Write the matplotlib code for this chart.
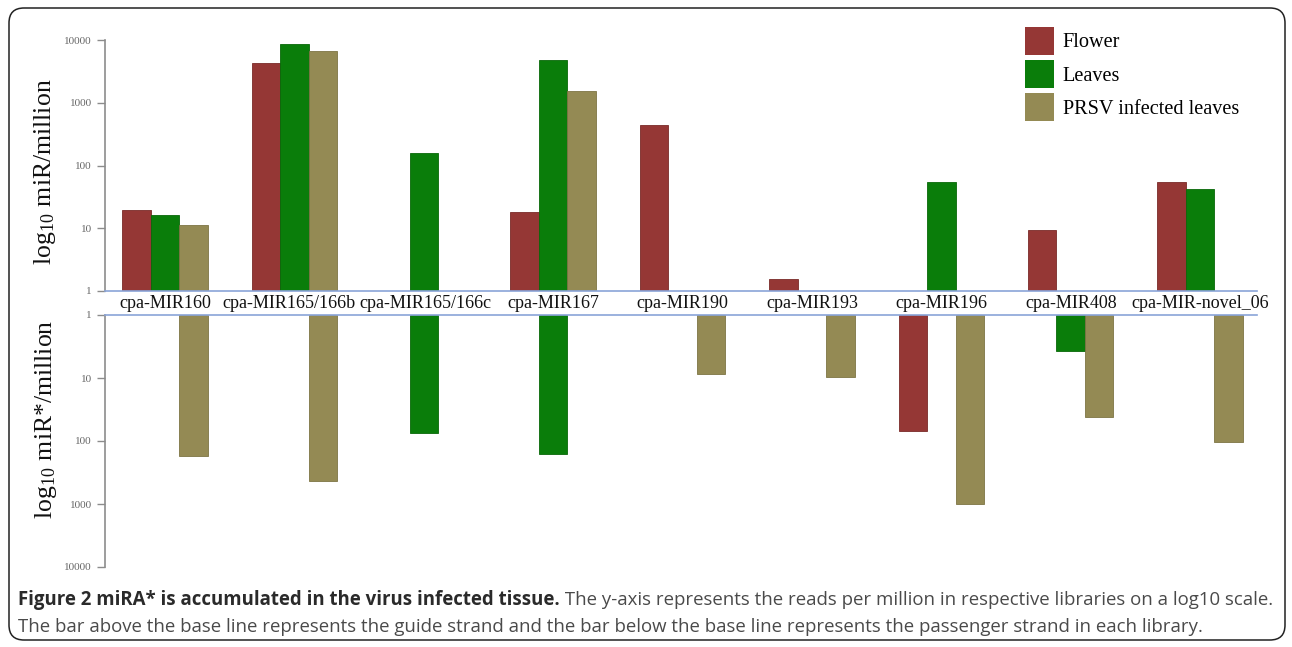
import numpy as np
import matplotlib
matplotlib.use("Agg")
import matplotlib.pyplot as plt
import matplotlib.transforms as mtransforms
from matplotlib.patches import FancyBboxPatch
from matplotlib import font_manager

# ---------------- data ----------------
categories = ["cpa-MIR160", "cpa-MIR165/166b", "cpa-MIR165/166c", "cpa-MIR167",
              "cpa-MIR190", "cpa-MIR193", "cpa-MIR196", "cpa-MIR408", "cpa-MIR-novel_06"]
series = ["Flower", "Leaves", "PRSV infected leaves"]
nan = np.nan
# guide strand (miR) reads per million
guide_flower = [19.5, 4300, nan, 18, 445, 1.55, nan, 9.4, 55]
guide_leaves = [16, 8700, 160, 4800, nan, nan, 55, nan, 42]
guide_prsv = [11.3, 6700, nan, 1550, nan, nan, nan, nan, nan]
# passenger strand (miR*) reads per million
star_flower = [nan, nan, nan, nan, nan, nan, 69, nan, nan]
star_leaves = [nan, nan, 75, 160, nan, nan, nan, 3.7, nan]
star_prsv = [174, 430, nan, nan, 8.7, 9.6, 1000, 42, 104]
top_ticks = [1, 10, 100, 1000, 10000]
top_tick_labels = ["1", "10", "100", "1000", "10000"]
bot_ticks = [1, 10, 100, 1000, 10000]
bot_tick_labels = ["1", "10", "100", "1000", "10000"]

colors = ["#953735", "#0a7d0a", "#948a54"]
edges = ["#7a2a28", "#086808", "#7d7444"]

W, H = 1292, 647
fig = plt.figure(figsize=(W / 100, H / 100), dpi=100)
plt.rcParams['mathtext.fontset'] = 'stix'

serif = ["Liberation Serif", "DejaVu Serif"]

def px_axes(left, top, right, bottom):
    return fig.add_axes([left / W, 1 - bottom / H, (right - left) / W, (bottom - top) / H])

ax_top = px_axes(105, 40, 1257, 291)
ax_bot = px_axes(105, 315, 1257, 567)

x = np.arange(len(categories))
bw = 0.22
offsets = [-bw, 0, bw]
guide = [guide_flower, guide_leaves, guide_prsv]
star = [star_flower, star_leaves, star_prsv]

for i in range(3):
    g = np.array(guide[i], dtype=float)
    m = ~np.isnan(g)
    ax_top.bar(x[m] + offsets[i], g[m] - 1, bottom=1, width=bw, color=colors[i],
               edgecolor=edges[i], linewidth=0.6, label=series[i])
    s = np.array(star[i], dtype=float)
    m = ~np.isnan(s)
    ax_bot.bar(x[m] + offsets[i], s[m] - 1, bottom=1, width=bw, color=colors[i],
               edgecolor=edges[i], linewidth=0.6)

blue = "#8aa4d8"
gray = "#8c8c8c"
for ax, ticks, labels in [(ax_top, top_ticks, top_tick_labels), (ax_bot, bot_ticks, bot_tick_labels)]:
    ax.set_yscale('log')
    ax.set_xlim(-0.464, len(categories) - 0.56)
    ax.minorticks_off()
    ax.set_yticks(ticks)
    ax.set_yticklabels(labels)
    ax.tick_params(axis='y', which='major', length=5.5, width=1, color=gray,
                   labelsize=8, labelcolor="#666666", pad=4)
    for t in ax.get_yticklabels():
        t.set_family(serif)
    ax.spines['left'].set_color(gray)
    ax.spines['left'].set_linewidth(1.2)
    ax.spines['right'].set_visible(False)
    ax.patch.set_alpha(0)

ax_top.set_ylim(1, 10000)
ax_top.spines['top'].set_visible(False)
ax_top.spines['bottom'].set_color(blue)
ax_top.spines['bottom'].set_linewidth(1.2)
ax_top.set_xticks(x)
ax_top.set_xticklabels(categories)
ax_top.tick_params(axis='x', length=0, pad=3.2, labelsize=13)
label_shift_px = {1: -5, 2: 2}
for k, t in enumerate(ax_top.get_xticklabels()):
    t.set_family(serif)
    t.set_color("#111111")
    if k in label_shift_px:
        t.set_transform(t.get_transform() + mtransforms.ScaledTranslation(
            label_shift_px[k] / 100, 0, fig.dpi_scale_trans))

ax_bot.set_ylim(10000, 1)
ax_bot.spines['bottom'].set_visible(False)
ax_bot.spines['top'].set_color(blue)
ax_bot.spines['top'].set_linewidth(1.2)
ax_bot.set_xticks([])

# y labels
fig.text(45 / W, 1 - 172 / H, r"log$_{\mathregular{10}}$ miR/million", rotation=90,
         ha='center', va='center', fontsize=18.5, family=serif, color="#111111")
fig.text(46 / W, 1 - 419 / H, r"log$_{\mathregular{10}}$ miR*/million", rotation=90,
         ha='center', va='center', fontsize=18.5, family=serif, color="#111111")

# legend
leg = ax_top.legend(loc='upper left', bbox_to_anchor=(1025 / W, 1 - 27 / H),
                    bbox_transform=fig.transFigure, frameon=False, borderpad=0,
                    borderaxespad=0, handlelength=1.45, handleheight=1.72,
                    handletextpad=0.42, labelspacing=0.27,
                    prop={'family': serif, 'size': 14.6})
for h in leg.legend_handles:
    h.set_linewidth(0)

# border
fig.patches.append(FancyBboxPatch((0.09, 0.07), 12.76, 6.32,
                                  boxstyle="round,pad=0,rounding_size=0.15",
                                  transform=fig.dpi_scale_trans, fill=False,
                                  edgecolor="#222222", linewidth=1.1))

# caption
names = {f.name for f in font_manager.fontManager.ttflist}
cap_font = "Liberation Sans Narrow" if "Liberation Sans Narrow" in names else "Open Sans"
bold_txt = "Figure 2 miRA* is accumulated in the virus infected tissue."
rest1 = " The y-axis represents the reads per million in respective libraries on a log10 scale."
line2 = ("The bar above the base line represents the guide strand and the bar below the base line "
         "represents the passenger strand in each library.")

renderer = fig.canvas.get_renderer()
fs = 10
y1 = 1 - 600 / H
y2 = 1 - 627 / H
x0 = 18 / W
tb = fig.text(x0, y1, bold_txt, fontsize=fs, weight='bold', family=cap_font,
              color="#2a2a2a", va='center')
tr = fig.text(0, y1, rest1, fontsize=fs, family=cap_font, color="#4a4a4a", va='center')
w_total = tb.get_window_extent(renderer).width + tr.get_window_extent(renderer).width
fs = fs * (1275 - 18) / w_total
tb.set_fontsize(fs)
tr.set_fontsize(fs)
bb = tb.get_window_extent(renderer)
tr.set_x(bb.x1 / W)
fig.text(x0, y2, line2, fontsize=fs, family=cap_font, color="#4a4a4a", va='center')

fig.savefig("out.png", dpi=100)
